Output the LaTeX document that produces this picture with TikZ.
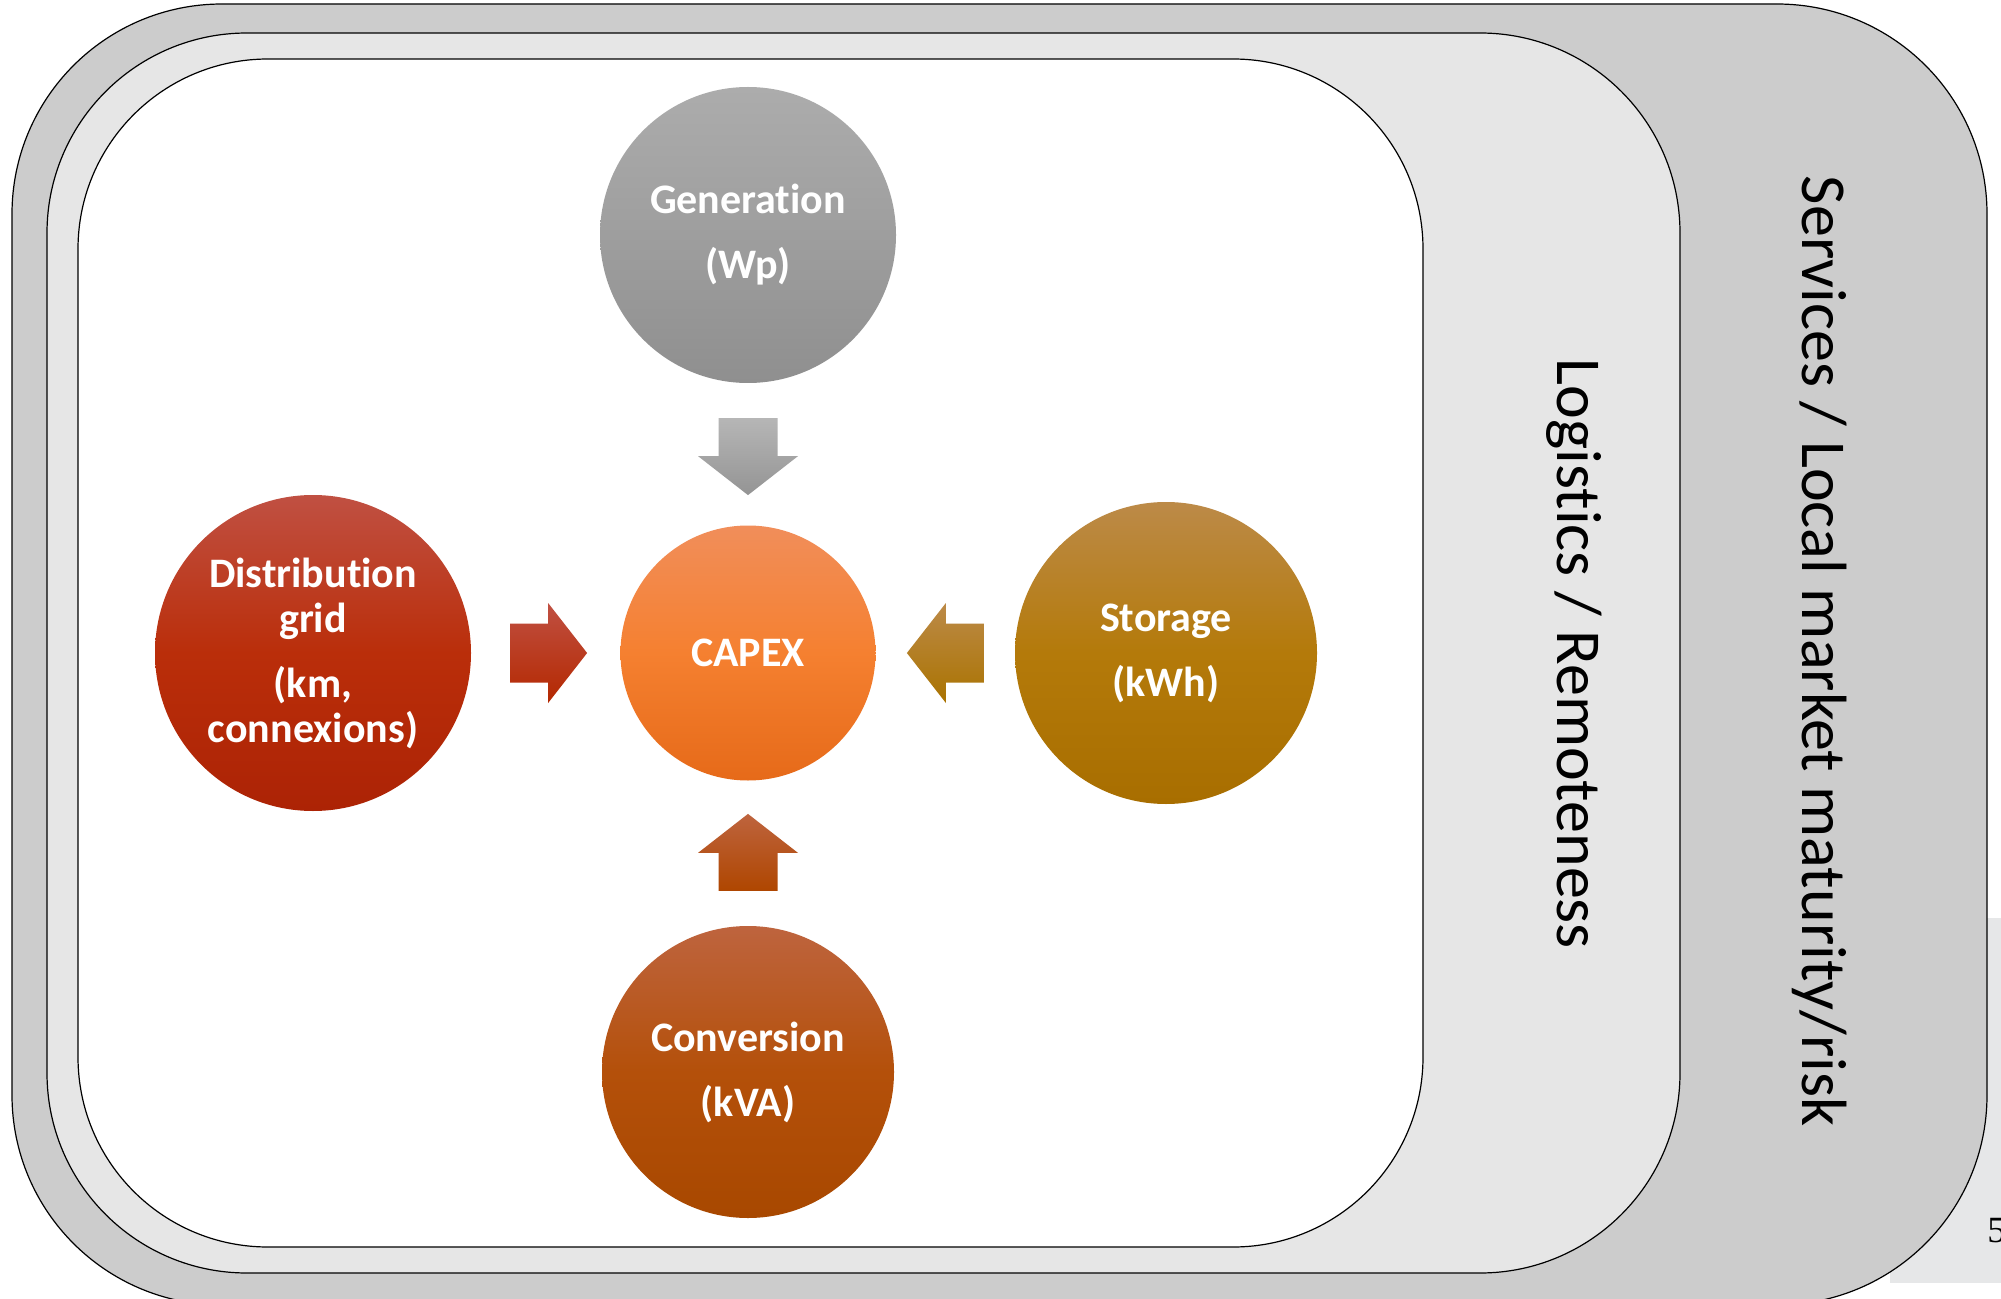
\documentclass[tikz,border=0pt]{standalone}
\usepackage{fontspec}
\setmainfont{Carlito}[Ligatures=NoCommon]
\newfontfamily\slidenum{Liberation Serif}
\usetikzlibrary{calc}

\definecolor{outergray}{RGB}{204,204,204}
\definecolor{midgray}{RGB}{230,230,230}
\definecolor{notegray}{RGB}{230,231,232}

\tikzset{
  band/.style={draw=black, line width=0.6pt, rounded corners=#1},
  bubble/.style={circle, inner sep=0pt, align=center, text=white,
    font=\bfseries\fontsize{21}{22.5}\selectfont},
  sidetext/.style={rotate=-90, anchor=base, font=\fontsize{32}{38}\selectfont},
}
\newcommand{\fatarrow}[3]{\shade[#3, shift={(#1)}, rotate=#2] (0,0) -- (-50,-39) -- (-29.5,-39) -- (-29.5,-77) -- (29.5,-77) -- (29.5,-39) -- (50,-39) -- cycle}

\begin{document}
\begin{tikzpicture}[x=0.5pt, y=-0.5pt]
  \useasboundingbox (0,0) rectangle (2001,1299);

  % frames
  \fill[notegray] (1890,918) rectangle (2001,1283);
  \draw[band=105pt, fill=outergray] (12,4) rectangle (1987,1305);
  \draw[band=100pt, fill=midgray] (47,33) rectangle (1680,1273);
  \draw[band=95pt, fill=white] (78,59) rectangle (1423,1247);
  \node[anchor=base west, inner sep=0pt, font=\slidenum\fontsize{18.5}{20}\selectfont] (pg) at (1987,1242) {5};

  \node[sidetext] (logi) at (1557,654) {Logistics / Remoteness};
  \node[sidetext] (serv) at (1802,651) {Services / Local market maturity/risk};

  % circles
  \node[bubble, minimum size=127.5pt, top color={rgb,255:red,241;green,142;blue,90}, bottom color={rgb,255:red,230;green,106;blue,25}, middle color={rgb,255:red,245;green,128;blue,48}] (capex) at (748,653) {CAPEX};
  \node[bubble, minimum size=148pt, top color={rgb,255:red,172;green,172;blue,172}, bottom color={rgb,255:red,143;green,143;blue,143}, middle color={rgb,255:red,158;green,158;blue,158}] (gen) at (748,235) {Generation\\[10pt](Wp)};
  \node[bubble, minimum size=158pt, top color={rgb,255:red,192;green,80;blue,66}, bottom color={rgb,255:red,172;green,35;blue,5}, middle color={rgb,255:red,186;green,46;blue,10}] (grid) at (313,653) {Distribution\\grid\\[10pt](km,\\connexions)};
  \node[bubble, minimum size=151pt, top color={rgb,255:red,188;green,138;blue,72}, bottom color={rgb,255:red,168;green,110;blue,0}, middle color={rgb,255:red,180;green,122;blue,10}] (stor) at (1166,653) {Storage\\[10pt](kWh)};
  \node[bubble, minimum size=146pt, top color={rgb,255:red,190;green,100;blue,62}, bottom color={rgb,255:red,168;green,72;blue,0}, middle color={rgb,255:red,180;green,80;blue,10}] (conv) at (748,1072) {Conversion\\[10pt](kVA)};

  % arrows into CAPEX
  \coordinate (tipN) at ($(capex.north)+(0,-30)$);
  \coordinate (tipW) at ($(capex.west)+(-33,0)$);
  \coordinate (tipE) at ($(capex.east)+(31,0)$);
  \coordinate (tipS) at ($(capex.south)+(0,33)$);
  \fatarrow{tipN}{0}{top color={rgb,255:red,182;green,182;blue,182}, bottom color={rgb,255:red,148;green,148;blue,148}};
  \fatarrow{tipW}{90}{top color={rgb,255:red,192;green,80;blue,66}, bottom color={rgb,255:red,180;green,40;blue,0}};
  \fatarrow{tipE}{-90}{top color={rgb,255:red,188;green,138;blue,72}, bottom color={rgb,255:red,170;green,115;blue,0}};
  \fatarrow{tipS}{180}{top color={rgb,255:red,190;green,100;blue,62}, bottom color={rgb,255:red,175;green,70;blue,0}};
\end{tikzpicture}
\end{document}
